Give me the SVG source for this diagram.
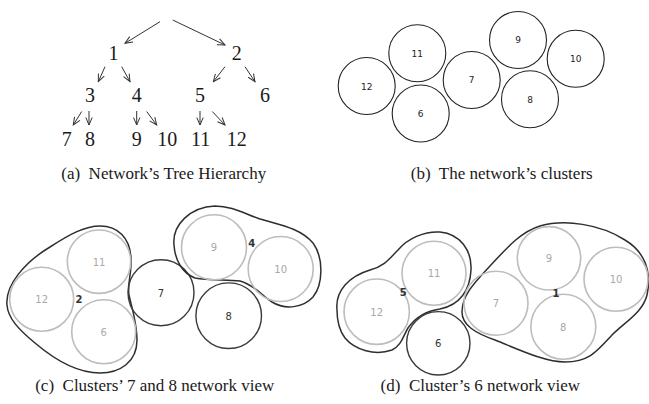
<svg xmlns="http://www.w3.org/2000/svg" width="649" height="404" viewBox="0 0 649 404">
<style>
.t{font-family:"Liberation Serif","Times New Roman",serif;fill:#1a1a1a;text-anchor:middle}
.tn{font-size:20px}
.cap{font-size:17px}
.a{stroke:#333;stroke-width:1;fill:none;marker-end:url(#ah)}
.cb{fill:none;stroke:#222;stroke-width:1.1}
.cg{fill:none;stroke:#bdbdbd;stroke-width:1.6}
.cd{fill:none;stroke:#3a3a3a;stroke-width:1.4}
.hull{fill:none;stroke:#2e2e2e;stroke-width:1.5}
.s{font-family:"DejaVu Sans",sans-serif;text-anchor:middle}
.sb{font-size:9px;fill:#222}
.sg{font-size:10px;fill:#a8a8a8}
.sd{font-size:10px;fill:#333}
.sc{font-size:10px;fill:#333;font-weight:bold}
</style>
<defs>
<marker id="ah" markerUnits="userSpaceOnUse" markerWidth="10" markerHeight="10" viewBox="0 0 10 10" refX="9" refY="5" orient="auto">
<path d="M1.5,1.8 L9,5 L1.5,8.2" fill="none" stroke="#333" stroke-width="1"/>
</marker>
</defs>

<!-- (a) tree -->
<g id="connectors-a">
<line class="a" x1="160" y1="21.7" x2="125" y2="43.3"/>
<line class="a" x1="172.7" y1="20" x2="225" y2="45"/>
<line class="a" x1="105" y1="66.7" x2="98.3" y2="81.7"/>
<line class="a" x1="121.7" y1="66.7" x2="130" y2="81.7"/>
<line class="a" x1="225" y1="66.7" x2="213.3" y2="81.7"/>
<line class="a" x1="245" y1="66.7" x2="255" y2="81.7"/>
<line class="a" x1="81.7" y1="111.5" x2="73.3" y2="125"/>
<line class="a" x1="89" y1="111" x2="89" y2="125"/>
<line class="a" x1="136.7" y1="111" x2="136.7" y2="125"/>
<line class="a" x1="146.7" y1="111.5" x2="156.7" y2="125"/>
<line class="a" x1="200" y1="111" x2="200" y2="125"/>
<line class="a" x1="212.3" y1="111.5" x2="225" y2="125"/>
</g>
<g id="tree-nodes">
<g id="t1"><text class="t tn" x="113.5" y="60">1</text></g>
<g id="t2"><text class="t tn" x="236.7" y="60">2</text></g>
<g id="t3"><text class="t tn" x="90" y="102">3</text></g>
<g id="t4"><text class="t tn" x="136.7" y="102">4</text></g>
<g id="t5"><text class="t tn" x="200" y="102">5</text></g>
<g id="t6"><text class="t tn" x="265" y="102">6</text></g>
<g id="t7"><text class="t tn" x="66.7" y="146">7</text></g>
<g id="t8"><text class="t tn" x="90" y="146">8</text></g>
<g id="t9"><text class="t tn" x="136.7" y="146">9</text></g>
<g id="t10"><text class="t tn" x="167.3" y="146">10</text></g>
<g id="t11"><text class="t tn" x="200.7" y="146">11</text></g>
<g id="t12"><text class="t tn" x="236.7" y="146">12</text></g>
</g>
<text class="t cap" x="163.7" y="179" xml:space="preserve">(a)  Network’s Tree Hierarchy</text>

<!-- (b) clusters -->
<g id="b-nodes">
<g id="b11"><circle class="cb" cx="417.3" cy="53.3" r="28.5"/><text class="s sb" x="417.3" y="56.5">11</text></g>
<g id="b12"><circle class="cb" cx="366.7" cy="86" r="28.5"/><text class="s sb" x="366.7" y="89.5">12</text></g>
<g id="b6"><circle class="cb" cx="420.7" cy="113.5" r="28.5"/><text class="s sb" x="420.7" y="117">6</text></g>
<g id="b7"><circle class="cb" cx="471.7" cy="80" r="28.5"/><text class="s sb" x="471.7" y="83">7</text></g>
<g id="b9"><circle class="cb" cx="518" cy="40" r="28.5"/><text class="s sb" x="518" y="43">9</text></g>
<g id="b10"><circle class="cb" cx="575.7" cy="58.7" r="28.5"/><text class="s sb" x="575.7" y="62">10</text></g>
<g id="b8"><circle class="cb" cx="530" cy="99.3" r="28.5"/><text class="s sb" x="530" y="102.5">8</text></g>
</g>
<text class="t cap" x="501.7" y="178.5" xml:space="preserve">(b)  The network’s clusters</text>

<!-- (c) -->
<g id="c-cluster2">
<path class="hull" d="M7,305 C5,285 25,262 50,247 C70,234 85,226 100,226 C118,226 130,238 131,258 C132,272 127,285 129,295 C131,305 137,322 137,340 C137,362 120,373 100,373 C78,373 55,360 35,343 C18,329 8,318 7,305 Z"/>
<g id="c11"><circle class="cg" cx="99" cy="261.7" r="31.7"/><text class="s sg" x="99" y="265.5">11</text></g>
<g id="c12"><circle class="cg" cx="41.7" cy="299.3" r="32"/><text class="s sg" x="41.7" y="303">12</text></g>
<g id="c6"><circle class="cg" cx="103.7" cy="331.7" r="32"/><text class="s sg" x="103.7" y="335.5">6</text></g>
<text class="s sc" x="79" y="303">2</text>
</g>
<g id="c7"><circle class="cd" cx="161" cy="292.7" r="33"/><text class="s sd" x="161" y="296.5">7</text></g>
<g id="c8"><circle class="cd" cx="228.7" cy="315.7" r="32.8"/><text class="s sd" x="228.7" y="319.5">8</text></g>
<g id="c-cluster4">
<path class="hull" d="M174,245 C172,225 190,207 215,206 C232,206 245,214 260,219 C280,225 300,228 313,243 C324,258 323,285 313,297 C303,308 285,310 272,302 C262,296 255,285 240,281 C228,279 210,281 195,278 C182,273 175,260 174,245 Z"/>
<g id="c9"><circle class="cg" cx="214" cy="247.3" r="32.5"/><text class="s sg" x="214" y="251">9</text></g>
<g id="c10"><circle class="cg" cx="280.7" cy="269" r="32.5"/><text class="s sg" x="280.7" y="272.7">10</text></g>
<text class="s sc" x="251.7" y="247">4</text>
</g>
<text class="t cap" x="154.7" y="391" xml:space="preserve">(c)  Clusters’ 7 and 8 network view</text>

<!-- (d) -->
<g id="d-cluster5">
<path class="hull" d="M337,310 C335,290 350,276 370,270 C385,266 390,258 398,250 C408,238 425,231 440,232 C460,234 472,250 471,270 C470,290 460,305 440,309 C425,311 415,318 408,328 C403,336 402,345 392,350 C375,356 355,350 345,338 C339,330 337,320 337,310 Z"/>
<g id="d11"><circle class="cg" cx="434" cy="273.3" r="32"/><text class="s sg" x="434" y="277">11</text></g>
<g id="d12"><circle class="cg" cx="376.7" cy="311.7" r="32.7"/><text class="s sg" x="376.7" y="315.5">12</text></g>
<text class="s sc" x="403.3" y="295.5">5</text>
</g>
<g id="d6"><circle class="cd" cx="438.3" cy="343.3" r="31.7"/><text class="s sd" x="438.3" y="347">6</text></g>
<g id="d-cluster1">
<path class="hull" d="M462,312 C462,295 475,282 490,266 C505,250 520,232 540,226 C565,219 600,224 625,240 C645,252 652,272 647,295 C643,312 625,322 612,335 C598,350 590,362 565,362 C545,362 520,350 495,340 C475,333 462,325 462,312 Z"/>
<g id="d7"><circle class="cg" cx="496" cy="303.3" r="32"/><text class="s sg" x="496" y="307">7</text></g>
<g id="d9"><circle class="cg" cx="549" cy="258.3" r="31.7"/><text class="s sg" x="549" y="262">9</text></g>
<g id="d10"><circle class="cg" cx="616" cy="279.3" r="32"/><text class="s sg" x="616" y="283">10</text></g>
<g id="d8"><circle class="cg" cx="563.3" cy="326.7" r="32.5"/><text class="s sg" x="563.3" y="330.5">8</text></g>
<text class="s sc" x="556" y="296.5">1</text>
</g>
<text class="t cap" x="480.3" y="391" xml:space="preserve">(d)  Cluster’s 6 network view</text>
</svg>
